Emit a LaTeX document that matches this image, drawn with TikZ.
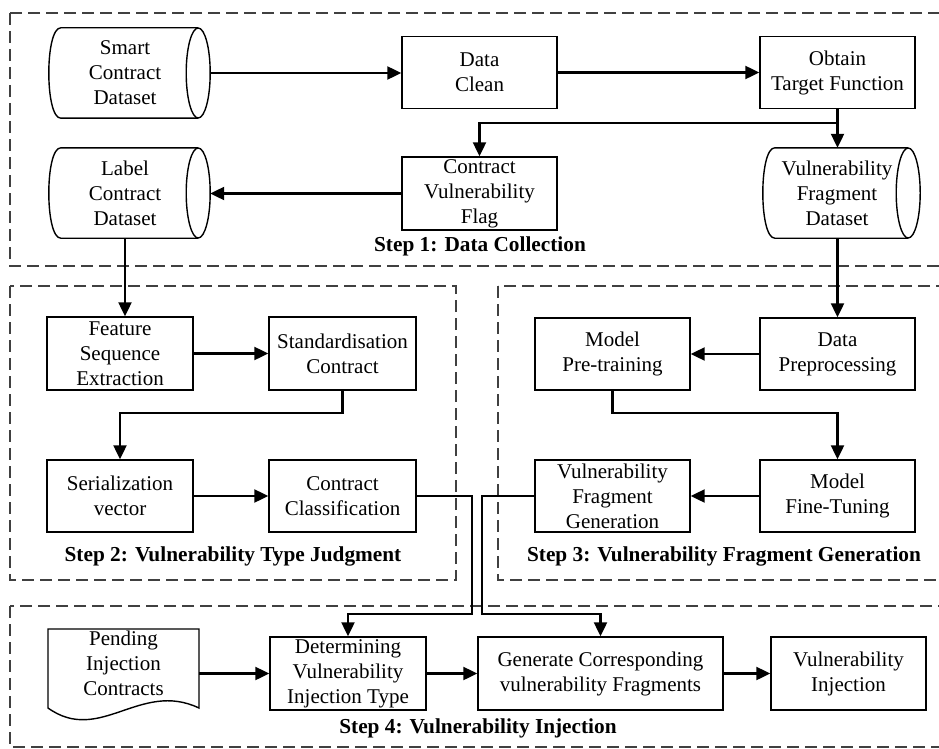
\documentclass[tikz,border=0pt]{standalone}
\usepackage{fontspec}
\setmainfont{Liberation Serif}
\usetikzlibrary{arrows.meta}

\begin{document}
\begin{tikzpicture}[x=1pt,y=-1pt,
        font=\fontsize{21}{25}\selectfont,
        box/.style={draw,line width=1.4pt,align=center,minimum width=155pt,minimum height=72pt,inner sep=1pt},
        db/.style={align=center,minimum width=152pt,minimum height=90pt,inner sep=1pt},
        arr/.style={line width=2.2pt,-{Triangle[length=14pt,width=13pt]}},
        group/.style={dash pattern=on 12pt off 6pt,line width=1.7pt,black!75},
        stage/.style={font=\fontsize{21.3}{25}\selectfont\bfseries}]
                \useasboundingbox (0,0) rectangle (939,749);
                \clip (0,0) rectangle (939,749);

                % dashed frames of the four steps
                \draw[group] (10,13) rectangle (960,266);
                \draw[group] (10,286) rectangle (456,580);
                \draw[group] (498,286) rectangle (960,580);
                \draw[group] (10,606) rectangle (960,747);

                % step 1
                \node[db] (sc) at (125,73) {Smart\\Contract\\Dataset};
                \node[box] (dc) at (479.5,72.5) {Data\\Clean};
                \node[box] (otf) at (837.5,72.5) {Obtain\\Target Function};
                \node[db] (lcd) at (125,193) {Label\\Contract\\Dataset};
                \node[box,minimum height=73pt] (cvf) at (479.5,193.5) {Contract\\Vulnerability\\Flag};
                \node[db,minimum width=148pt] (vfd) at (837,193) {Vulnerability\\Fragment\\Dataset};
                \node[stage] (s1) at (480,246) {Step 1: Data Collection};

                % outlines of the data stores
                \foreach \n in {sc,lcd,vfd} {
                    \draw[line width=1.4pt] ([xshift=-3pt]\n.east) ellipse [x radius=12, y radius=45];
                    \draw[line width=1.4pt] ([xshift=-3pt]\n.north east) -- ([xshift=12pt]\n.north west)
                        .. controls ([xshift=-4pt]\n.north west) and ([xshift=-4pt]\n.south west) .. ([xshift=12pt]\n.south west)
                        -- ([xshift=-3pt]\n.south east);
                }

                \draw[arr] ([xshift=9pt]sc.east) -- (dc.west |- sc.east);
                \draw[arr] (dc) -- (otf);
                \draw[arr] (otf.south) -- (otf.south |- vfd.north);
                \draw[arr] (otf.south) -- ++(0,14) -| (cvf.north);
                \draw[arr] (cvf.west) -- ([xshift=9pt]cvf.west -| lcd.east);

                % step 2
                \node[box,minimum width=146pt,minimum height=73pt] (fse) at (120,353.5) {Feature\\Sequence\\Extraction};
                \node[box,minimum width=147pt,minimum height=73pt] (std) at (342.5,353.5) {Standardisation\\Contract};
                \node[box,minimum width=146pt] (sv) at (120,496) {Serialization\\vector};
                \node[box,minimum width=147pt] (cc) at (342.5,496) {Contract\\Classification};
                \node[stage] (s2) at (233,556) {Step 2: Vulnerability Type Judgment};

                \draw[arr] (lcd.south) -- (lcd.south |- fse.north);
                \draw[arr] (fse) -- (std);
                \draw[arr] (std.south) -- ++(0,22) -| (sv.north);
                \draw[arr] (sv) -- (cc);

                % step 3
                \node[box] (dp) at (837.5,354) {Data\\Preprocessing};
                \node[box] (mpt) at (612.5,354) {Model\\Pre-training};
                \node[box] (mft) at (837.5,496) {Model\\Fine-Tuning};
                \node[box] (vfg) at (612.5,496) {Vulnerability\\Fragment\\Generation};
                \node[stage] (s3) at (724,556) {Step 3: Vulnerability Fragment Generation};

                \draw[arr] (dp.north |- vfd.south) -- (dp.north);
                \draw[arr] (dp) -- (mpt);
                \draw[arr] (mpt.south) -- ++(0,22) -| (mft.north);
                \draw[arr] (mft) -- (vfg);

                % step 4
                \node[align=center,minimum width=151pt,minimum height=68pt,inner sep=1pt] (pic) at (123.5,663) {Pending\\Injection\\Contracts};
                \draw[line width=1.4pt] (48,629) -- (199,629) -- (199,708)
                    .. controls (140,680) and (100,745) .. (48,708) -- cycle;
                \node[box,minimum width=156pt,minimum height=73pt] (dvit) at (348,673.5) {Determining\\Vulnerability\\Injection Type};
                \node[box,minimum width=245pt,minimum height=73pt] (gcvf) at (600.5,673.5) {Generate Corresponding\\vulnerability Fragments};
                \node[box,minimum height=73pt] (vi) at (848.5,673.5) {Vulnerability\\Injection};
                \node[stage] (s4) at (478,728) {Step 4: Vulnerability Injection};

                \draw[arr] (cc.east) -- ++(55,0) -- ++(0,118) -| (dvit.north);
                \draw[arr] (vfg.west) -- ++(-52,0) -- ++(0,118) -| (gcvf.north);
                \draw[arr] (dvit.west -| pic.east) -- (dvit.west);
                \draw[arr] (dvit) -- (gcvf);
                \draw[arr] (gcvf) -- (vi);
            \end{tikzpicture}
\end{document}
